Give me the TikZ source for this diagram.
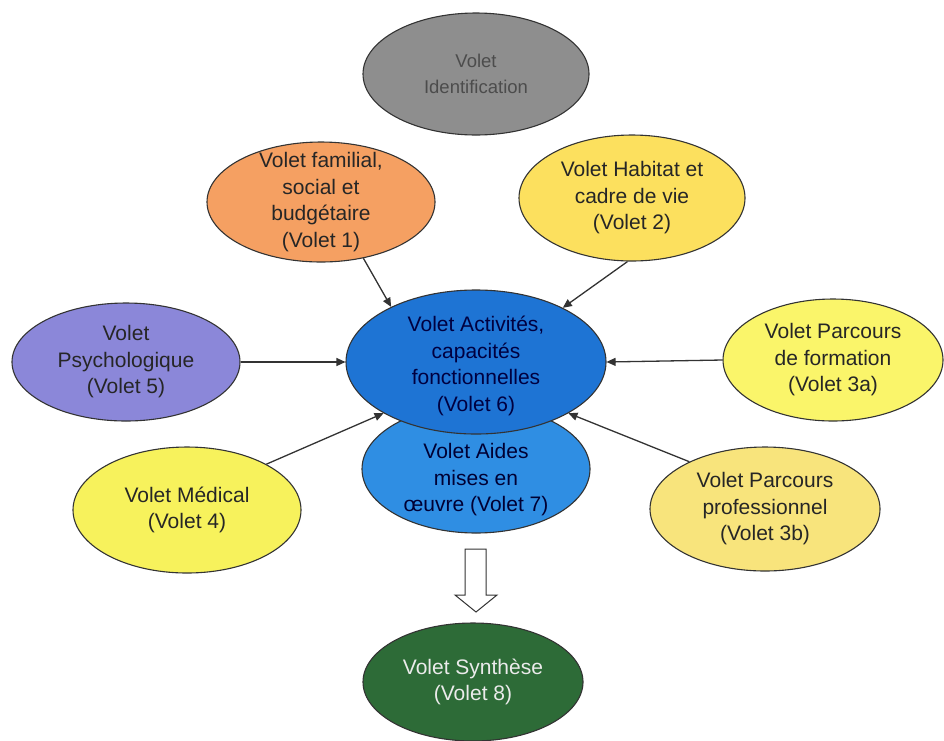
\documentclass[tikz,border=0pt]{standalone}
\usepackage{fontspec}
\setmainfont{Liberation Sans}
\usetikzlibrary{shapes.geometric,arrows.meta}
\definecolor{cgray}{HTML}{8E8E8E}
\definecolor{corange}{HTML}{F5A062}
\definecolor{chab}{HTML}{FCE05E}
\definecolor{cpurple}{HTML}{8B87D9}
\definecolor{cblue}{HTML}{1E74D4}
\definecolor{cbluelight}{HTML}{2F8EE3}
\definecolor{cyel}{HTML}{FAF56A}
\definecolor{cmed}{HTML}{F7F25C}
\definecolor{cpale}{HTML}{F8E47C}
\definecolor{cgreen}{HTML}{2D6B37}
\definecolor{cline}{HTML}{333333}
\begin{document}
\begin{tikzpicture}[x=1pt,y=-1pt,
  vol/.style={ellipse, draw=cline, line width=1.1pt, inner sep=0pt},
  txt/.style={align=center, font=\fontsize{21}{26.5}\selectfont, text=black!85},
  conn/.style={draw=cline, line width=1.3pt, -{Triangle[length=9pt,width=8pt]}}]
\useasboundingbox (0,0) rectangle (944,740);
% ellipses
\node[vol, fill=cgray, minimum width=226pt, minimum height=122pt] (id) at (476,74) {};
\node[txt, font=\fontsize{18.5}{26}\selectfont, text=black!70] at (id) {Volet\\Identification};
\node[vol, fill=corange, minimum width=228pt, minimum height=120pt] (fam) at (321,202) {};
\node[txt] at (fam) {Volet familial,\\social et\\budgétaire\\(Volet 1)};
\node[vol, fill=chab, minimum width=226pt, minimum height=126pt] (hab) at (632,198) {};
\node[txt] at (hab) {Volet Habitat et\\cadre de vie\\(Volet 2)};
\node[vol, fill=cpurple, minimum width=228pt, minimum height=118pt] (psy) at (126,362) {};
\node[txt] at (psy.center) {Volet\\Psychologique\\(Volet 5)};
\node[vol, fill=cyel, minimum width=220pt, minimum height=122pt] (form) at (833,360) {};
\node[txt] at (form) {Volet Parcours\\de formation\\(Volet 3a)};
\node[vol, fill=cmed, minimum width=228pt, minimum height=126pt] (med) at (187,510) {};
\node[txt] at (med) {Volet Médical\\(Volet 4)};
\node[vol, fill=cpale, minimum width=230pt, minimum height=124pt] (pro) at (765,509) {};
\node[txt] at (pro) {Volet Parcours\\professionnel\\(Volet 3b)};
\node[vol, fill=cbluelight, minimum width=228pt, minimum height=128pt] (aid) at (476,469) {};
\node[txt, text=black!80!blue] at (476,480) {Volet Aides\\mises en\\œuvre (Volet 7)};
\node[vol, fill=cblue, minimum width=260pt, minimum height=144pt] (act) at (476,362) {};
\node[txt, text=black!75!blue] at (476,366) {Volet Activités,\\capacités\\fonctionnelles\\(Volet 6)};
\node[vol, fill=cgreen, minimum width=220pt, minimum height=118pt] (syn) at (473,682) {};
\node[txt, text=white!92!black] at (syn) {Volet Synthèse\\(Volet 8)};
% connectors
\draw[conn] (fam.-53) -- (act.147);
\draw[conn] (hab.-94) -- (act.32);
\draw[conn] (psy.east) -- (act.west);
\draw[conn] (form.west) -- (act.east);
\draw[conn] (med.30) -- (act.209);
\draw[conn] (pro.148) -- (act.331);
% hollow block arrow
\draw[cline, line width=1pt, fill=white] (465,549) -- (486,549) -- (486,595) -- (497,595) -- (476,612) -- (455,595) -- (465,595) -- cycle;
\end{tikzpicture}
\end{document}
